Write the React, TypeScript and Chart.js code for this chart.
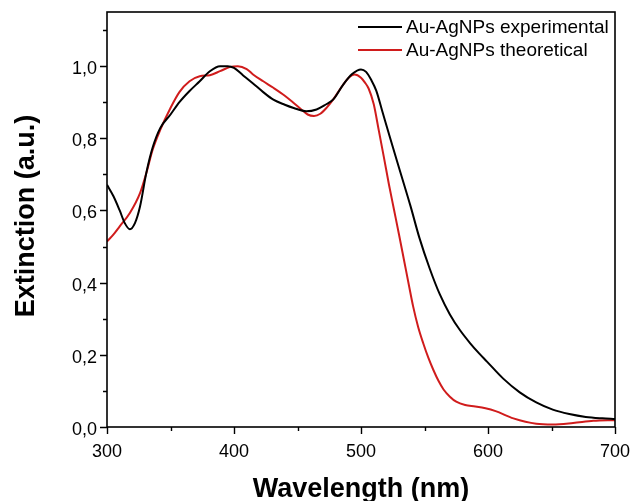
import React, { useEffect, useRef } from "react";
import { Chart, registerables } from "chart.js";

Chart.register(...registerables);

const expWavelength = [300, 305, 310, 314, 318, 322, 326, 331, 336, 342, 350, 357, 365, 373, 381, 389, 395, 400, 407, 415, 423, 431, 440, 447, 457, 465, 472, 478, 486, 493, 500, 504, 508, 512, 517, 523, 531, 539, 546, 554, 562, 570, 578, 586, 593, 599, 612, 625, 638, 651, 664, 677, 690, 700];
const expExtinction = [0.671, 0.64, 0.6, 0.565, 0.548, 0.565, 0.611, 0.705, 0.775, 0.829, 0.866, 0.9, 0.931, 0.958, 0.986, 1.0, 1.0, 0.995, 0.975, 0.952, 0.928, 0.907, 0.893, 0.884, 0.875, 0.88, 0.893, 0.907, 0.949, 0.978, 0.991, 0.984, 0.962, 0.932, 0.872, 0.8, 0.706, 0.612, 0.524, 0.44, 0.368, 0.312, 0.268, 0.232, 0.204, 0.182, 0.134, 0.096, 0.068, 0.048, 0.036, 0.028, 0.024, 0.022];

const theoWavelength = [300, 305, 310, 318, 326, 331, 336, 342, 350, 357, 365, 373, 381, 389, 397, 403, 410, 415, 423, 431, 440, 447, 453, 458, 463, 468, 473, 478, 486, 491, 495, 500, 503, 506, 510, 514, 518, 522, 526, 530, 534, 538, 541, 545, 549, 553, 557, 561, 565, 570, 575, 582, 590, 598, 606, 620, 638, 651, 667, 683, 700];
const theoExtinction = [0.514, 0.533, 0.556, 0.593, 0.648, 0.704, 0.769, 0.824, 0.884, 0.928, 0.958, 0.972, 0.975, 0.986, 0.998, 1.0, 0.992, 0.977, 0.958, 0.94, 0.918, 0.898, 0.88, 0.866, 0.862, 0.868, 0.885, 0.907, 0.949, 0.97, 0.977, 0.968, 0.955, 0.938, 0.895, 0.822, 0.748, 0.672, 0.602, 0.532, 0.46, 0.388, 0.335, 0.277, 0.232, 0.192, 0.158, 0.128, 0.104, 0.084, 0.07, 0.061, 0.057, 0.052, 0.044, 0.024, 0.009, 0.007, 0.011, 0.017, 0.019];

const seriesLabels = ["Au-AgNPs experimental", "Au-AgNPs theoretical"];
const xTickValues = [300, 350, 400, 450, 500, 550, 600, 650, 700];
const xMajorTicks = [300, 400, 500, 600, 700];
const yTickValues = [0, 0.1, 0.2, 0.3, 0.4, 0.5, 0.6, 0.7, 0.8, 0.9, 1.0, 1.1];
const yMajorTicks = [0, 0.2, 0.4, 0.6, 0.8, 1.0];
const xTitle = "Wavelength (nm)";
const yTitle = "Extinction (a.u.)";

const FONT = '"Liberation Sans", Arial, sans-serif';

const isMajor = (v: number, majors: number[]) => majors.some((m) => Math.abs(m - v) < 1e-6);

const decorPlugin = {
  id: "decor",
  afterDraw(chart: any) {
    const { ctx, chartArea } = chart;
    const { left, right, top, bottom } = chartArea;
    const xs = chart.scales.x;
    const ys = chart.scales.y;
    ctx.save();
    ctx.strokeStyle = "#000";
    ctx.lineWidth = 1.6;
    ctx.strokeRect(left, top, right - left, bottom - top);
    ctx.lineWidth = 1.4;
    ctx.beginPath();
    for (const v of yTickValues) {
      const py = Math.round(ys.getPixelForValue(v)) + 0.5;
      const len = isMajor(v, yMajorTicks) ? 7 : 4;
      ctx.moveTo(left - len, py);
      ctx.lineTo(left, py);
    }
    for (const v of xTickValues) {
      const px = Math.round(xs.getPixelForValue(v)) + 0.5;
      const len = isMajor(v, xMajorTicks) ? 7 : 4;
      ctx.moveTo(px, bottom);
      ctx.lineTo(px, bottom + len);
    }
    ctx.stroke();

    // axis titles
    ctx.fillStyle = "#000";
    ctx.font = `bold 27px ${FONT}`;
    ctx.textAlign = "center";
    ctx.textBaseline = "alphabetic";
    ctx.fillText(xTitle, (left + right) / 2, 497);
    ctx.save();
    ctx.translate(34, 216);
    ctx.rotate(-Math.PI / 2);
    ctx.fillText(yTitle, 0, 0);
    ctx.restore();

    // legend
    ctx.font = `19px ${FONT}`;
    ctx.textAlign = "left";
    ctx.textBaseline = "middle";
    chart.data.datasets.forEach((ds: any, i: number) => {
      const y = top + 15 + i * 23;
      const x0 = right - 257;
      ctx.strokeStyle = ds.borderColor;
      ctx.lineWidth = 2;
      ctx.beginPath();
      ctx.moveTo(x0, y);
      ctx.lineTo(x0 + 44, y);
      ctx.stroke();
      ctx.fillStyle = "#000";
      ctx.fillText(ds.label, x0 + 48, y + 1);
    });
    ctx.restore();
  },
};

export default function App() {
  const ref = useRef<HTMLCanvasElement | null>(null);
  useEffect(() => {
    if (!ref.current) return;
    const chart = new Chart(ref.current, {
      type: "line",
      data: {
        datasets: [
          {
            label: seriesLabels[0],
            data: expWavelength.map((x, i) => ({ x, y: expExtinction[i] })),
            borderColor: "#000000",
            borderWidth: 2,
            pointRadius: 0,
            cubicInterpolationMode: "monotone",
            fill: false,
          },
          {
            label: seriesLabels[1],
            data: theoWavelength.map((x, i) => ({ x, y: theoExtinction[i] })),
            borderColor: "#d01c1c",
            borderWidth: 2,
            pointRadius: 0,
            cubicInterpolationMode: "monotone",
            fill: false,
          },
        ],
      },
      options: {
        animation: false,
        responsive: false,
        maintainAspectRatio: false,
        layout: { padding: { left: 0, top: 12, right: 18, bottom: 0 } },
        plugins: { legend: { display: false }, tooltip: { enabled: false } },
        scales: {
          x: {
            type: "linear",
            min: 300,
            max: 700,
            afterFit: (s: any) => {
              s.height = 74;
              s.paddingLeft = 0;
              s.paddingRight = 0;
            },
            afterBuildTicks: (s: any) => {
              s.ticks = xTickValues.map((value) => ({ value }));
            },
            grid: { display: false, drawTicks: false },
            border: { display: false },
            ticks: {
              padding: 14,
              color: "#000",
              font: { family: FONT, size: 18 },
              maxRotation: 0,
              autoSkip: false,
              callback: (v: any) => (isMajor(Number(v), xMajorTicks) ? String(v) : ""),
            },
          },
          y: {
            type: "linear",
            min: 0,
            max: 1.15,
            afterFit: (s: any) => {
              s.width = 107;
              s.paddingTop = 0;
              s.paddingBottom = 0;
            },
            afterBuildTicks: (s: any) => {
              s.ticks = yTickValues.map((value) => ({ value }));
            },
            grid: { display: false, drawTicks: false },
            border: { display: false },
            ticks: {
              padding: 10,
              labelOffset: 3,
              color: "#000",
              font: { family: FONT, size: 18 },
              autoSkip: false,
              callback: (v: any) =>
                isMajor(Number(v), yMajorTicks) ? Number(v).toFixed(1).replace(".", ",") : "",
            },
          },
        },
      },
      plugins: [decorPlugin],
    } as any);
    return () => chart.destroy();
  }, []);
  return (
    <div style={{ position: "absolute", left: 0, top: 0, width: 633, height: 501, background: "#fff" }}>
      <canvas ref={ref} width={633} height={501} />
    </div>
  );
}
